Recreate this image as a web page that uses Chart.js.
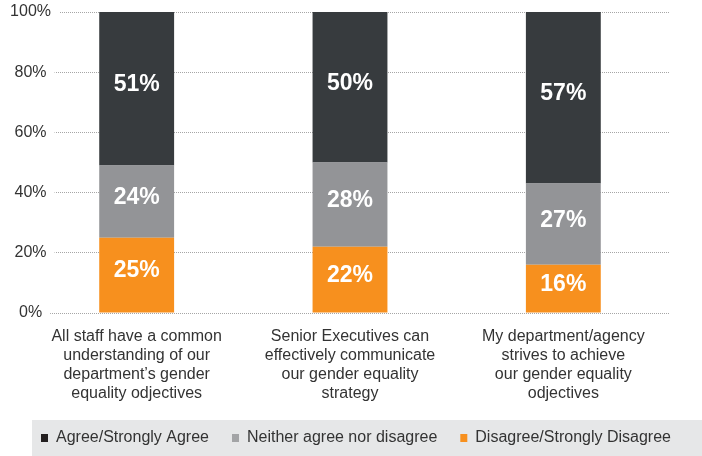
<!DOCTYPE html>
<html>
<head>
<meta charset="utf-8">
<script src="https://cdn.jsdelivr.net/npm/chart.js@4"></script>
<style>
  html, body { margin: 0; padding: 0; background: #ffffff; }
  #wrap { width: 702px; height: 456px; }
</style>
</head>
<body>
<div id="wrap"><canvas id="c" width="702" height="456"></canvas></div>
<script>
const categories = [
  ["All staff have a common", "understanding of our", "department\u2019s gender", "equality odjectives"],
  ["Senior Executives can", "effectively communicate", "our gender equality", "strategy"],
  ["My department/agency", "strives to achieve", "our gender equality", "odjectives"]
];
const seriesNames = ["Agree/Strongly Agree", "Neither agree nor disagree", "Disagree/Strongly Disagree"];
const agreeValues = [51, 50, 57];
const neitherValues = [24, 28, 27];
const disagreeValues = [25, 22, 16];
const yTicks = [0, 20, 40, 60, 80, 100];

const COL_AGREE = '#373b3e';
const COL_NEITHER = '#939497';
const COL_DISAGREE = '#f7901e';
const LEGEND_COLS = ['#f7901e', '#a3a4a6', '#231f20'];

const FONT = '"Liberation Sans", Arial, Helvetica, sans-serif';

// Linear axis whose tick labels may spill past its own box (centred labels)
class CentredLinearScale extends Chart.LinearScale {
  _computeLabelArea() { return undefined; }
}
CentredLinearScale.id = 'centredLinear';
CentredLinearScale.defaults = Chart.LinearScale.defaults;
Chart.register(CentredLinearScale);

const barLabels = {
  id: 'barLabels',
  afterDatasetsDraw(chart) {
    const ctx = chart.ctx;
    ctx.save();
    ctx.font = 'bold 23px ' + FONT;
    ctx.fillStyle = '#ffffff';
    ctx.textAlign = 'center';
    ctx.textBaseline = 'middle';
    chart.data.datasets.forEach((ds, i) => {
      const meta = chart.getDatasetMeta(i);
      meta.data.forEach((bar, j) => {
        const p = bar.getProps(['x', 'y', 'base'], true);
        ctx.fillText(ds.data[j] + '%', p.x, (p.y + p.base) / 2 - 4);
      });
    });
    ctx.restore();
  }
};

const legendBand = {
  id: 'legendBand',
  beforeDraw(chart) {
    const lg = chart.legend;
    if (!lg) return;
    const ctx = chart.ctx;
    const top = lg.top + 13;
    const left = lg.left + 14;
    ctx.save();
    ctx.fillStyle = '#e6e7e8';
    ctx.fillRect(left, top, chart.width - left, chart.height - top);
    ctx.restore();
  }
};

new Chart(document.getElementById('c'), {
  type: 'bar',
  data: {
    labels: categories,
    datasets: [
      { label: seriesNames[2], data: disagreeValues, backgroundColor: COL_DISAGREE },
      { label: seriesNames[1], data: neitherValues, backgroundColor: COL_NEITHER },
      { label: seriesNames[0], data: agreeValues, backgroundColor: COL_AGREE }
    ]
  },
  options: {
    responsive: false,
    animation: false,
    devicePixelRatio: 1,
    layout: { padding: { left: 18, right: 0, top: 12, bottom: 0 } },
    datasets: { bar: { categoryPercentage: 1, barPercentage: 0.351, borderWidth: 0 } },
    plugins: {
      tooltip: { enabled: false },
      legend: {
        position: 'bottom',
        align: 'start',
        reverse: true,
        labels: {
          boxWidth: 7,
          boxHeight: 8,
          padding: 23,
          color: '#333333',
          font: { family: FONT, size: 16 },
          generateLabels(chart) {
            const items = Chart.defaults.plugins.legend.labels.generateLabels(chart);
            items.forEach(it => {
              it.fillStyle = LEGEND_COLS[it.datasetIndex];
              it.strokeStyle = LEGEND_COLS[it.datasetIndex];
              it.lineWidth = 0;
            });
            return items;
          }
        }
      }
    },
    scales: {
      x: {
        stacked: true,
        offset: true,
        grid: { display: false, drawTicks: false },
        border: { display: false },
        ticks: {
          color: '#333333',
          padding: 14,
          maxRotation: 0,
          autoSkip: false,
          font: { family: FONT, size: 16, lineHeight: '19px' }
        },
        afterFit(s) { s.height -= 10; }
      },
      y: {
        type: 'centredLinear',
        stacked: true,
        min: 0,
        max: 100,
        afterBuildTicks(s) { s.ticks = yTicks.map(v => ({ value: v })); },
        afterFit(s) { s.width = 12; },
        grid: {
          color: '#a6a6a6',
          lineWidth: 1,
          drawTicks: false
        },
        border: { display: false, dash: [1, 1] },
        ticks: {
          color: '#333333',
          crossAlign: 'center',
          padding: -21,
          font: { family: FONT, size: 16 },
          showLabelBackdrop: true,
          backdropColor: '#ffffff',
          backdropPadding: { left: 2, right: 8, top: 0, bottom: 0 },
          callback: v => v + '%'
        }
      },
      // empty right-hand margin axis (no ticks, no grid)
      yRight: {
        type: 'linear',
        position: 'right',
        display: true,
        grid: { display: false, drawTicks: false },
        border: { display: false },
        ticks: { display: false },
        afterFit(s) { s.width = 32; }
      }
    }
  },
  plugins: [legendBand, barLabels]
});
</script>
</body>
</html>
